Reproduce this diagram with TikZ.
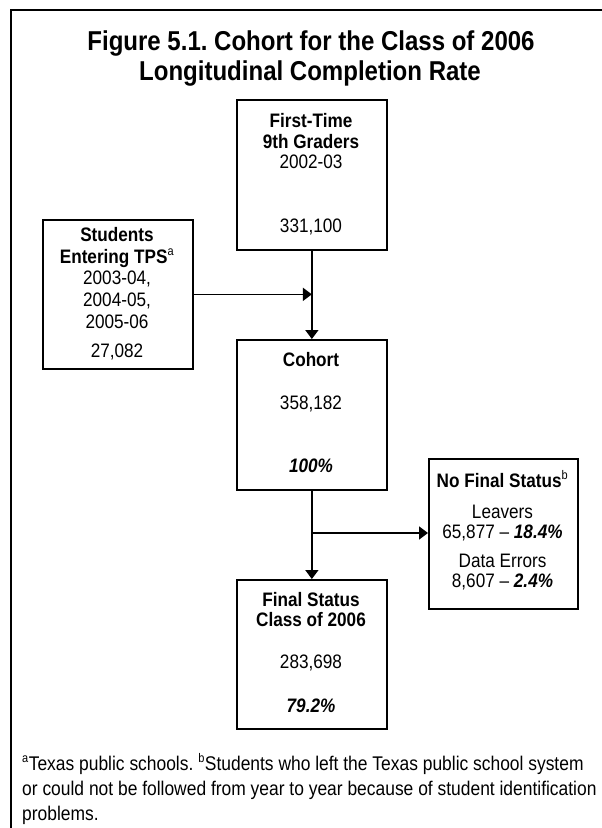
\documentclass[tikz,border=0pt]{standalone}
\usepackage{fontspec}
\setmainfont{Liberation Sans}[FakeStretch=0.88]
\usetikzlibrary{arrows.meta}
\begin{document}
\frenchspacing
\begin{tikzpicture}[x=1pt,y=-1pt,
  box/.style={draw, line width=1.7pt, rectangle, inner sep=0pt, anchor=north west},
  txt/.style={anchor=base, inner sep=0pt, font=\fontsize{19.5}{20.5}\selectfont},
  btxt/.style={txt, font=\fontsize{19.5}{20.5}\selectfont\bfseries},
  ttl/.style={anchor=base, inner sep=0pt, font=\fontsize{27.3}{30}\selectfont\bfseries},
  foot/.style={anchor=base west, inner sep=0pt, font=\fontsize{19.8}{24}\selectfont},
  conn/.style={line width=1.7pt, -{Triangle[length=9pt,width=13pt]}},
  frame/.style={line width=1.6pt}
]
\newcommand{\supmark}[1]{\textsuperscript{\mdseries\fontsize{12.5}{12.5}\selectfont #1}}
\useasboundingbox (0,0) rectangle (602,828);
\fill[white] (0,0) rectangle (602,828);
\draw[frame] (11,830) -- (11,10) -- (604,10);

% title
\node[ttl] (t1) at (311,50) {Figure 5.1. Cohort for the Class of 2006};
\node[ttl] (t2) at (310,80) {Longitudinal Completion Rate};

% boxes
\node[box, minimum width=150pt, minimum height=150pt] (first) at (236,99) {};
\node[box, minimum width=150pt, minimum height=149pt] (students) at (42,219) {};
\node[box, minimum width=150pt, minimum height=150pt] (cohort) at (236,339) {};
\node[box, minimum width=149pt, minimum height=150pt] (nofinal) at (428,458) {};
\node[box, minimum width=150pt, minimum height=149pt] (final) at (236,579) {};

% first-time text
\node[btxt] (f1) at (311,127) {First-Time};
\node[btxt] (f2) at (311,148) {9th Graders};
\node[txt] (f3) at (311,168) {2002-03};
\node[txt] (f4) at (311,232) {331,100};

% students text
\node[btxt] (s1) at (117,241) {Students};
\node[btxt] (s2) at (117,263) {Entering TPS\supmark{a}};
\node[txt] (s3) at (117,284) {2003-04,};
\node[txt] (s4) at (117,306) {2004-05,};
\node[txt] (s5) at (117,328) {2005-06};
\node[txt] (s6) at (117,357) {27,082};

% cohort text
\node[btxt] (c1) at (311,366) {Cohort};
\node[txt] (c2) at (311,409) {358,182};
\node[btxt] (c3) at (311,472) {\itshape 100\%};

% no final status text
\node[btxt] (n1) at (502.5,487) {No Final Status\supmark{b}};
\node[txt] (n2) at (502.5,518) {Leavers};
\node[txt] (n3) at (502.5,538) {65,877 -- \textbf{\textit{18.4\%}}};
\node[txt] (n4) at (502.5,567) {Data Errors};
\node[txt] (n5) at (502.5,587) {8,607 -- \textbf{\textit{2.4\%}}};

% final status text
\node[btxt] (g1) at (311,606) {Final Status};
\node[btxt] (g2) at (311,626) {Class of 2006};
\node[txt] (g3) at (311,668) {283,698};
\node[btxt] (g4) at (311,712) {\itshape 79.2\%};

% footnotes
\node[foot] (fn1) at (22,770) {\supmark{a}Texas public schools. \supmark{b}Students who left the Texas public school system};
\node[foot] (fn2) at (22,795) {or could not be followed from year to year because of student identification};
\node[foot] (fn3) at (22,820) {problems.};

% connectors
\draw[conn] (first.south) -- (cohort.north);
\draw[conn] (students.east) -- (students.east -| first.south);
\coordinate (br) at (311,533);
\draw[conn] (br) -- (nofinal.west |- br);
\draw[conn] (cohort.south) -- (final.north);
\end{tikzpicture}
\end{document}
